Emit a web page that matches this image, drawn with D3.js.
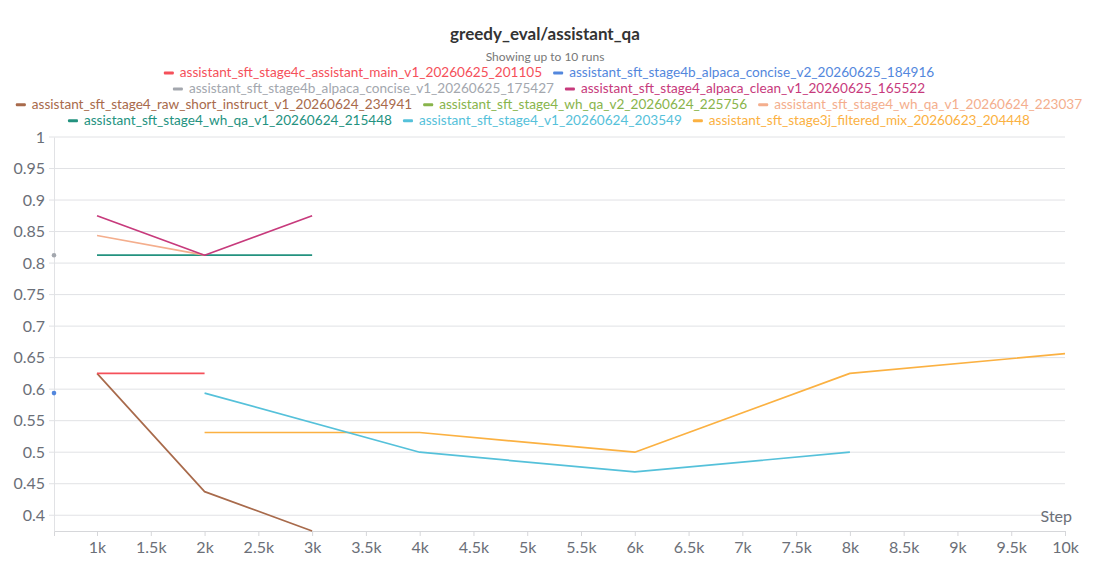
<!DOCTYPE html>
<html>
<head>
<meta charset="utf-8">
<script src="https://cdn.jsdelivr.net/npm/d3@7/dist/d3.min.js"></script>
<style>
  html, body { margin: 0; padding: 0; background: #fff; }
  svg { display: block; }
  text { font-family: Lato, "Noto Sans", sans-serif; }
</style>
</head>
<body>
<svg id="chart" width="1108" height="581"></svg>
<script>
// ---------------- DATA ----------------
const chartTitle = "greedy_eval/assistant_qa";
const chartSubtitle = "Showing up to 10 runs";
const xLabel = "Step";

const runNames = [
  "assistant_sft_stage4c_assistant_main_v1_20260625_201105",
  "assistant_sft_stage4b_alpaca_concise_v2_20260625_184916",
  "assistant_sft_stage4b_alpaca_concise_v1_20260625_175427",
  "assistant_sft_stage4_alpaca_clean_v1_20260625_165522",
  "assistant_sft_stage4_raw_short_instruct_v1_20260624_234941",
  "assistant_sft_stage4_wh_qa_v2_20260624_225756",
  "assistant_sft_stage4_wh_qa_v1_20260624_223037",
  "assistant_sft_stage4_wh_qa_v1_20260624_215448",
  "assistant_sft_stage4_v1_20260624_203549",
  "assistant_sft_stage3j_filtered_mix_20260623_204448"
];
const runColors = [
  "#f5505a", "#5387dd", "#a3a7ae", "#c73a7c", "#a86a4b",
  "#88b44b", "#f4ae8d", "#23927f", "#55c1da", "#fbb142"
];

const steps = [600, 1000, 2000, 3000, 4000, 6000, 8000, 10000];
const mainV1Values        = [null, 0.625,   0.625,  null,   null,    null,    null,  null];
const conciseV2Values     = [0.59375, null, null,   null,   null,    null,    null,  null];
const conciseV1Values     = [0.8125, null,  null,   null,   null,    null,    null,  null];
const alpacaCleanValues   = [null, 0.875,   0.8125, 0.875,  null,    null,    null,  null];
const rawShortValues      = [null, 0.625,   0.4375, 0.375,  null,    null,    null,  null];
const whQaV2Values        = [null, null,    null,   null,   null,    null,    null,  null];
const whQaV1aValues       = [null, 0.84375, 0.8125, null,   null,    null,    null,  null];
const whQaV1bValues       = [null, 0.8125,  0.8125, 0.8125, null,    null,    null,  null];
const stage4V1Values      = [null, null,    0.59375, null,  0.5,     0.46875, 0.5,   null];
const filteredMixValues   = [null, null,    0.53125, null,  0.53125, 0.5,     0.625, 0.65625];

const seriesValues = [
  mainV1Values, conciseV2Values, conciseV1Values, alpacaCleanValues, rawShortValues,
  whQaV2Values, whQaV1aValues, whQaV1bValues, stage4V1Values, filteredMixValues
];

const xDomain = [600, 10000];
const yDomain = [0.375, 1];
const xTickValues = d3.range(1000, 10001, 500);
const yTickValues = d3.range(0.4, 1.0001, 0.05).map(v => Math.round(v * 100) / 100);

// ---------------- LAYOUT ----------------
const W = 1108, H = 581;
const margin = { left: 54, right: 43, top: 137, bottom: 50 };
const innerW = W - margin.left - margin.right;
const innerH = H - margin.top - margin.bottom;
const tickColor = "#6b6f78";
const gridColor = "#e1e2e5";

const svg = d3.select("#chart");

const x = d3.scaleLinear().domain(xDomain).range([margin.left, margin.left + innerW]);
const y = d3.scaleLinear().domain(yDomain).range([margin.top + innerH, margin.top]);

// Title
svg.append("text").attr("x", 545).attr("y", 40)
  .attr("text-anchor", "middle").attr("font-size", 17).attr("font-weight", 700)
  .attr("fill", "#333").text(chartTitle);
svg.append("text").attr("x", 545).attr("y", 61)
  .attr("text-anchor", "middle").attr("font-size", 12)
  .attr("fill", "#777").text(chartSubtitle);

// Legend (wrapped, centered rows)
const legendFont = 13.6;
const legendG = svg.append("g");
const measure = svg.append("text").attr("font-size", legendFont).attr("visibility", "hidden");
const items = runNames.map((name, i) => {
  measure.text(name);
  const tw = measure.node().getComputedTextLength();
  return { name, color: runColors[i], tw, w: 16 + tw };
});
measure.remove();
const gap = 11, maxRowW = 1080;
const rows = [];
let cur = [], curW = 0;
items.forEach(it => {
  const add = (cur.length ? gap : 0) + it.w;
  if (cur.length && curW + add > maxRowW) { rows.push({ items: cur, w: curW }); cur = []; curW = 0; }
  curW += (cur.length ? gap : 0) + it.w; cur.push(it);
});
if (cur.length) rows.push({ items: cur, w: curW });
const legendCenter = 549;
rows.forEach((row, r) => {
  let xx = legendCenter - row.w / 2;
  const yy = 77 + r * 15.9;
  row.items.forEach(it => {
    legendG.append("rect").attr("x", xx).attr("y", yy - 5.5).attr("width", 10).attr("height", 3)
      .attr("rx", 1).attr("fill", it.color);
    legendG.append("text").attr("x", xx + 16).attr("y", yy).attr("font-size", legendFont)
      .attr("fill", it.color).text(it.name);
    xx += it.w + gap;
  });
});

// Grid
svg.append("g").selectAll("line").data(yTickValues).join("line")
  .attr("x1", margin.left - 5).attr("x2", margin.left + innerW)
  .attr("y1", d => y(d)).attr("y2", d => y(d))
  .attr("stroke", gridColor).attr("stroke-width", 1);

// Y axis
const yAxis = d3.axisLeft(y).tickValues(yTickValues).tickSize(0).tickPadding(9)
  .tickFormat(d => d3.format("")(Math.round(d * 100) / 100));
const gy = svg.append("g").attr("transform", `translate(${margin.left},0)`).call(yAxis);
gy.select(".domain").attr("stroke", gridColor);
gy.selectAll("text").attr("font-size", 16).attr("fill", tickColor).attr("font-family", "Lato, sans-serif");

// X axis
const xAxis = d3.axisBottom(x).tickValues(xTickValues).tickSize(5).tickPadding(6)
  .tickFormat(d => (d / 1000) + "k");
const gx = svg.append("g").attr("transform", `translate(0,${margin.top + innerH})`).call(xAxis);
gx.select(".domain").attr("stroke", "#d6d7da");
gx.selectAll(".tick line").attr("stroke", "#d6d7da");
gx.selectAll("text").attr("font-size", 16).attr("fill", tickColor).attr("font-family", "Lato, sans-serif");

svg.append("text").attr("x", margin.left + innerW + 7).attr("y", margin.top + innerH - 9)
  .attr("text-anchor", "end").attr("font-size", 16).attr("fill", tickColor).text(xLabel);

// Lines (first run drawn on top)
const line = d3.line().defined(d => d.v != null).x(d => x(d.s)).y(d => y(d.v));
const plotG = svg.append("g");
const order = d3.range(seriesValues.length).reverse();
order.forEach(i => {
  const vals = seriesValues[i];
  const pts = steps.map((s, j) => ({ s, v: vals[j] })).filter(d => d.v != null);
  if (pts.length > 1) {
    plotG.append("path").datum(pts).attr("d", line)
      .attr("fill", "none").attr("stroke", runColors[i]).attr("stroke-width", 1.7)
      .attr("stroke-linejoin", "round");
  } else if (pts.length === 1) {
    plotG.append("circle").attr("cx", x(pts[0].s)).attr("cy", y(pts[0].v)).attr("r", 2.3)
      .attr("fill", runColors[i]);
  }
});
</script>
</body>
</html>
